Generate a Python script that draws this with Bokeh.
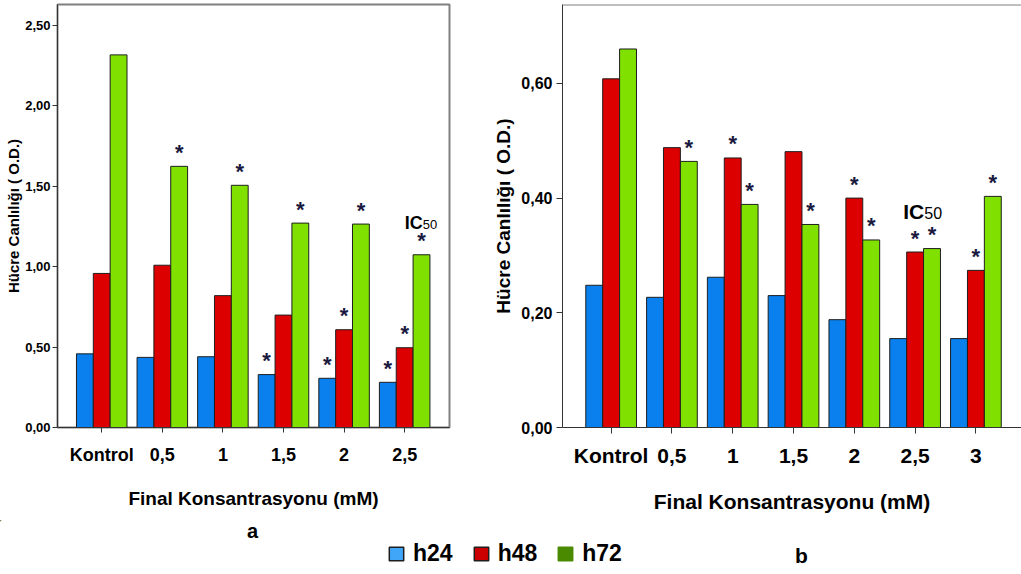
from bokeh.plotting import figure
from bokeh.layouts import column, row
from bokeh.models import (Range1d, FixedTicker, Label, Span, Legend, LegendItem,
                          ColumnDataSource, CustomJSTickFormatter)
from bokeh.core.properties import value
from bokeh.embed import file_html
from bokeh.resources import INLINE

FONT = "Liberation Sans"

# ---------------- data ----------------
series = ["h24", "h48", "h72"]
bar_colors = ["#0a80ee", "#dd0000", "#80e000"]
legend_colors = ["#3fa6f8", "#cc0000", "#4a8a00"]

cats_a = ["Kontrol", "0,5", "1", "1,5", "2", "2,5"]
h24_a = [0.458, 0.436, 0.440, 0.329, 0.306, 0.281]
h48_a = [0.958, 1.009, 0.820, 0.699, 0.608, 0.496]
h72_a = [2.317, 1.624, 1.506, 1.271, 1.265, 1.074]
sig24_a = [0, 0, 0, 1, 1, 1]
sig48_a = [0, 0, 0, 0, 1, 1]
sig72_a = [0, 1, 1, 1, 1, 1]
yticks_a = [0.0, 0.5, 1.0, 1.5, 2.0, 2.5]

cats_b = ["Kontrol", "0,5", "1", "1,5", "2", "2,5", "3"]
h24_b = [0.248, 0.227, 0.262, 0.230, 0.188, 0.155, 0.155]
h48_b = [0.608, 0.488, 0.470, 0.481, 0.400, 0.306, 0.274]
h72_b = [0.660, 0.464, 0.389, 0.354, 0.327, 0.312, 0.403]
sig24_b = [0, 0, 0, 0, 0, 0, 0]
sig48_b = [0, 0, 1, 0, 1, 1, 1]
sig72_b = [0, 1, 1, 1, 1, 1, 1]
yticks_b = [0.0, 0.2, 0.4, 0.6]

y_title = "Hücre Canlılığı ( O.D.)"
x_title = "Final Konsantrasyonu (mM)"

BAR_W = 0.278
ROW_H = 520

fmt = CustomJSTickFormatter(code="return tick.toFixed(2).replace('.', ',');")


def make_chart(cats, vals, sigs, yticks, y_end, x_start, x_end, width, bt,
               bl, br, tick_fs, ytick_fs, ytitle_fs, xtitle_fs, ystand, ylab_stand,
               xstand, xlab_stand, tick_out, outline):
    p = figure(width=width, height=ROW_H, x_range=Range1d(x_start, x_end),
               y_range=Range1d(0, y_end), output_backend="svg", toolbar_location=None,
               min_border_left=bl, min_border_right=br, min_border_top=bt,
               min_border_bottom=ROW_H - 427)
    p.background_fill_color = "white"
    p.border_fill_color = "white"
    p.xgrid.visible = False
    p.ygrid.visible = False
    if outline:
        p.outline_line_color = "#808080"
        p.outline_line_width = 2
    else:
        p.outline_line_color = None
        p.add_layout(Span(location=y_end, dimension="width", line_color="#808080", line_width=2))

    n = len(cats)
    xa = p.xaxis[0]
    xa.ticker = FixedTicker(ticks=list(range(n)))
    xa.major_label_overrides = {i: c for i, c in enumerate(cats)}
    xa.major_tick_out = tick_out
    xa.major_tick_in = 0
    xa.minor_tick_line_color = None
    xa.axis_line_color = "#333333"
    xa.major_tick_line_color = "#333333"
    xa.major_label_text_font = FONT
    xa.major_label_text_font_style = "bold"
    xa.major_label_text_font_size = tick_fs
    xa.major_label_text_color = "black"
    xa.major_label_standoff = xstand
    xa.axis_label = x_title
    xa.axis_label_text_font = FONT
    xa.axis_label_text_font_style = "bold"
    xa.axis_label_text_font_size = xtitle_fs
    xa.axis_label_text_color = "black"
    xa.axis_label_standoff = xlab_stand

    ya = p.yaxis[0]
    ya.ticker = FixedTicker(ticks=yticks)
    ya.formatter = fmt
    ya.major_tick_out = tick_out
    ya.major_tick_in = 0
    ya.minor_tick_line_color = None
    ya.axis_line_color = "#333333"
    ya.major_tick_line_color = "#333333"
    ya.major_label_text_font = FONT
    ya.major_label_text_font_style = "bold"
    ya.major_label_text_font_size = ytick_fs
    ya.major_label_text_color = "black"
    ya.major_label_standoff = ystand
    ya.axis_label = y_title
    ya.axis_label_text_font = FONT
    ya.axis_label_text_font_style = "bold"
    ya.axis_label_text_font_size = ytitle_fs
    ya.axis_label_text_color = "black"
    ya.axis_label_standoff = ylab_stand

    for i, (v, s, col) in enumerate(zip(vals, sigs, bar_colors)):
        off = (i - 1) * BAR_W
        xs = [j + off for j in range(n)]
        src = ColumnDataSource(dict(x=xs, top=v))
        p.vbar(x="x", top="top", bottom=0, width=BAR_W, source=src,
               fill_color=col, line_color="#1e1e1e", line_width=1)
        sx = [xs[j] for j in range(n) if s[j]]
        sy = [v[j] for j in range(n) if s[j]]
        p.text(x=sx, y=sy, text=["*"] * len(sx), text_font=value(FONT),
               text_font_style="bold", text_font_size="22px", text_color="#1a1a40",
               text_align="center", text_baseline="alphabetic", y_offset=-14)
    return p


pa = make_chart(cats_a, [h24_a, h48_a, h72_a], [sig24_a, sig48_a, sig72_a], yticks_a,
                424 / 161.2, -0.73, 5.74, 490, 3, 57, 41,
                "18px", "13px", "15px", "19px", 2, 0, 12, 20, 5, True)
pb = make_chart(cats_b, [h24_b, h48_b, h72_b], [sig24_b, sig48_b, sig72_b], yticks_b,
                423 / 573.5, -0.8, 6.75, 531, 4, 72, 0,
                "21px", "16px", "19px", "21px", 4, 4, 10, 20, 6, False)

# IC50 labels
pa.add_layout(Label(x=5.30, y=1.272, text="IC", text_font=FONT, text_font_style="bold",
                    text_font_size="18px", text_align="right", text_baseline="alphabetic",
                    text_color="black"))
pa.add_layout(Label(x=5.30, y=1.262, text="50", text_font=FONT, text_color="black",
                    text_font_size="13px", text_align="left", text_baseline="alphabetic"))
pb.add_layout(Label(x=5.15, y=0.377, text="IC", text_font=FONT, text_font_style="bold",
                    text_font_size="21px", text_align="right", text_baseline="alphabetic",
                    text_color="black"))
pb.add_layout(Label(x=5.15, y=0.374, text="50", text_font=FONT, text_color="black",
                    text_font_size="16px", text_align="left", text_baseline="alphabetic"))

# bottom strip with panel letters and legend (data units = page pixels)
ps = figure(width=1021, height=574 - ROW_H, x_range=Range1d(0, 1021),
            y_range=Range1d(574, ROW_H), output_backend="svg", toolbar_location=None,
            x_axis_type=None, y_axis_type=None, min_border=0)
ps.outline_line_color = None
ps.xgrid.visible = False
ps.ygrid.visible = False
items = []
for name, col in zip(series, legend_colors):
    # legend-only renderers, kept outside the visible strip
    r = ps.vbar(x=[-500], top=[-500], bottom=-501, width=1, fill_color=col,
                line_color="#1e1e1e" if name != "h72" else col, line_width=1.5)
    items.append(LegendItem(label=name, renderers=[r]))
leg = Legend(items=items, orientation="horizontal", location=(387, 7),
             glyph_width=18, glyph_height=17, label_height=17, label_standoff=8,
             spacing=19, padding=0, margin=0, border_line_color=None,
             background_fill_alpha=0, label_text_font=FONT, label_text_font_style="bold",
             label_text_font_size="23px", label_text_color="black")
ps.add_layout(leg)
ps.add_layout(Label(x=252, y=530, text="a", text_font=FONT, text_font_style="bold",
                    text_font_size="20px", text_align="center", text_baseline="middle",
                    text_color="black"))
ps.add_layout(Label(x=801, y=555, text="b", text_font=FONT, text_font_style="bold",
                    text_font_size="21px", text_align="center", text_baseline="middle",
                    text_color="black"))

layout = column(row(pa, pb), ps)
open("out.html", "w").write(file_html(layout, INLINE))
